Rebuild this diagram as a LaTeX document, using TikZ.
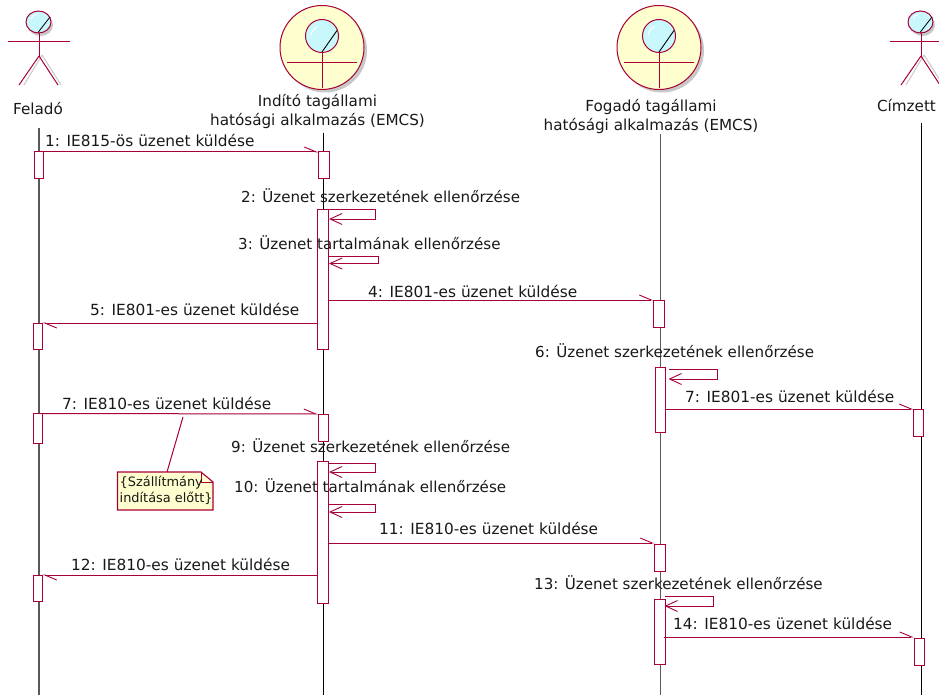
\documentclass[tikz,border=0pt]{standalone}
\usepackage{fontspec}
\setmainfont{DejaVu Sans}
\usetikzlibrary{arrows.meta}
\definecolor{rosered}{HTML}{A80036}
\definecolor{actorfill}{HTML}{FEFECE}
\definecolor{headfill}{HTML}{C8F8FC}
\definecolor{shadowgrey}{HTML}{C8C8C8}
\tikzset{
  x=1pt,y=-1pt,
  lifeline/.style={draw=black,line width=1pt},
  lifegrey/.style={draw=black!65,line width=1.4pt},
  bar/.style={draw=rosered,fill=white,line width=1pt},
  msg/.style={draw=rosered,line width=1pt,-{Straight Barb[harpoon,length=12pt,width=10pt,line width=.9pt]}},
  selfmsg/.style={draw=rosered,line width=1pt,-{Straight Barb[length=12pt,width=11pt,line width=.9pt]}},
  lbl/.style={font=\fontsize{15.1}{17}\selectfont,inner sep=0pt,text=black!90,anchor=base west},
  ielbl/.style={font=\fontsize{15.35}{17}\selectfont,inner sep=0pt,text=black!90,anchor=base west},
  head lbl/.style={font=\fontsize{15.2}{19.5}\selectfont,inner sep=0pt,align=center,text=black!90,anchor=base},
  limb/.style={draw=rosered,line width=1pt},
  shadowlimb/.style={draw=shadowgrey,line width=1pt},
  notefill/.style={draw=rosered,fill=actorfill,line width=1.1pt},
}
\newcommand{\stickman}[2]{%
  \begin{scope}[shift={(#1,#2)}]
    \draw[shadowlimb] (3,55) -- (22,85) (3,55) -- (-15,85);
    \fill[shadowgrey] (1.5,25) ellipse [x radius=12.5,y radius=11];
    \draw[limb,fill=headfill] (-0.5,22) ellipse [x radius=12.5,y radius=11];
    \draw[black,line width=.8pt] (-1,32.5) -- (11,17);
    \draw[white,line width=.9pt] (-8,19) to[bend left=30] (-2,14);
    \draw[limb] (0,33) -- (0,56);
    \draw[limb,line width=.8pt] (-31,41.3) -- (31,41.3);
    \draw[limb] (0,56) -- (-20,85) (0,56) -- (19,85);
  \end{scope}}
\newcommand{\robust}[2]{%
  \begin{scope}[shift={(#1,#2)}]
    \fill[shadowgrey] (3,3) circle (42);
    \draw[limb,fill=actorfill] (0,0) circle (42);
    \draw[limb,fill=headfill] (0,-11.5) circle (16.5);
    \draw[black,line width=.9pt] (0,4.5) -- (15,-17);
    \draw[white,line width=.9pt] (-11,-12) to[bend left=30] (-4,-21);
    \draw[limb] (0,5) -- (0,41) (-35,15) -- (35,15);
  \end{scope}}
\begin{document}
\begin{tikzpicture}
\useasboundingbox[fill=white] (0,0) rectangle (939,695);
% lifelines
\coordinate (ltop1) at (39,128); \coordinate (lbot1) at (39,695);
\coordinate (ltop2) at (323.5,133); \coordinate (lbot2) at (323.5,695);
\coordinate (ltop3) at (660.5,134); \coordinate (lbot3) at (660.5,695);
\coordinate (ltop4) at (921,123); \coordinate (lbot4) at (921,695);
\draw[lifegrey] (ltop1) -- (lbot1);
\draw[lifeline] (ltop2) -- (lbot2);
\draw[lifegrey] (ltop3) -- (lbot3);
\draw[lifeline] (ltop4) -- (lbot4);
% actors
\stickman{39}{0}
\robust{322}{47.5}
\robust{659}{47.5}
\stickman{921}{0}
\node[head lbl] (feladoL) at (38,115) {Feladó};
\node[head lbl] (inditoL) at (317.5,126) {Indító tagállami\\hatósági alkalmazás (EMCS)};
\node[head lbl] (fogadoL) at (651,131) {Fogadó tagállami\\hatósági alkalmazás (EMCS)};
\node[head lbl] (cimzettL) at (906.5,112) {Címzett};
% activation bars
\foreach \n/\xa/\ya/\xb/\yb in {
 a1/34/152/43.5/179, a2/33/323/42.5/349, a3/33/413.5/42.5/443, a4/33/575/42.5/601,
 b1/318.5/152/329/179, b2/317.5/209/328/349, b3/318/414/328.5/441, b4/317.5/461/328/603,
 c1/653.5/300/664/327, c2/655/367/665.5/432, c3/654.5/544/665/571, c4/654.7/599/665/664,
 d1/913.5/409/923.5/436, d2/914/638/924/665}{
  \node[bar,inner sep=0pt,outer sep=0pt,minimum width={\xb-\xa},minimum height={\yb-\ya},rectangle] (\n) at ({(\xa+\xb)/2},{(\ya+\yb)/2}) {};
}
% messages
\coordinate (m1s) at (a1.north east); \coordinate (m1e) at (b1.north west);
\draw[msg] (m1s) -- (m1e);
\coordinate (m4s) at (328,300); \coordinate (m4e) at (c1.north west);
\draw[msg] (m4s) -- (m4e);
\coordinate (m5s) at (317.5,323); \coordinate (m5e) at (a2.north east);
\draw[msg] (m5s) -- (m5e);
\coordinate (m7s) at (a3.north east); \coordinate (m7e) at (b3.north west);
\draw[msg] (m7s) -- (m7e);
\coordinate (m7bs) at (665.5,409); \coordinate (m7be) at (d1.north west);
\draw[msg] (m7bs) -- (m7be);
\coordinate (m11s) at (328,543); \coordinate (m11e) at (654.5,543);
\draw[msg] (m11s) -- (m11e);
\coordinate (m12s) at (317.5,575); \coordinate (m12e) at (a4.north east);
\draw[msg] (m12s) -- (m12e);
\coordinate (m14s) at (664,637); \coordinate (m14e) at (914,637);
\draw[msg] (m14s) -- (m14e);
% self messages
\foreach \xs/\xe/\ya/\yb in {329/375.5/209.5/219, 329/378/256/263.5, 668.5/717/369.5/379, 329/375/463/472, 329/375/504/512, 664.5/713/596.7/606}{
  \draw[selfmsg] (\xs,\ya) -- (\xe,\ya) -- (\xe,\yb) -- (\xs,\yb);
}
% labels
\node[ielbl] (l1) at (45,147) {1: IE815-ös üzenet küldése};
\node[lbl] (l2) at (241,203) {2: Üzenet szerkezetének ellenőrzése};
\node[lbl] (l3) at (238,249) {3: Üzenet tartalmának ellenőrzése};
\node[ielbl] (l4) at (368,297) {4: IE801-es üzenet küldése};
\node[ielbl] (l5) at (90,315) {5: IE801-es üzenet küldése};
\node[lbl] (l6) at (535,357) {6: Üzenet szerkezetének ellenőrzése};
\node[ielbl] (l7) at (62,409) {7: IE810-es üzenet küldése};
\node[ielbl] (l7b) at (685,402) {7: IE801-es üzenet küldése};
\node[lbl] (l9) at (231,452) {9: Üzenet szerkezetének ellenőrzése};
\node[lbl] (l10) at (234,492) {10: Üzenet tartalmának ellenőrzése};
\node[ielbl] (l11) at (379,534) {11: IE810-es üzenet küldése};
\node[ielbl] (l12) at (71,570) {12: IE810-es üzenet küldése};
\node[lbl] (l13) at (534,589) {13: Üzenet szerkezetének ellenőrzése};
\node[ielbl] (l14) at (673,629) {14: IE810-es üzenet küldése};
% note
\coordinate (noteanchor) at (183,417);
\coordinate (notetop) at (167,472);
\draw[limb] (noteanchor) -- (notetop);
\draw[notefill] (117.5,472) -- (201,472) -- (213,482) -- (213,510) -- (117.5,510) -- cycle;
\draw[limb] (201,472) -- (201,482) -- (213,482);
\node[font=\fontsize{12.9}{15.5}\selectfont,inner sep=0pt,align=left,anchor=north west,text=black!90] (note) at (119.5,476) {\{Szállítmány\\indítása előtt\}};
\end{tikzpicture}
\end{document}
